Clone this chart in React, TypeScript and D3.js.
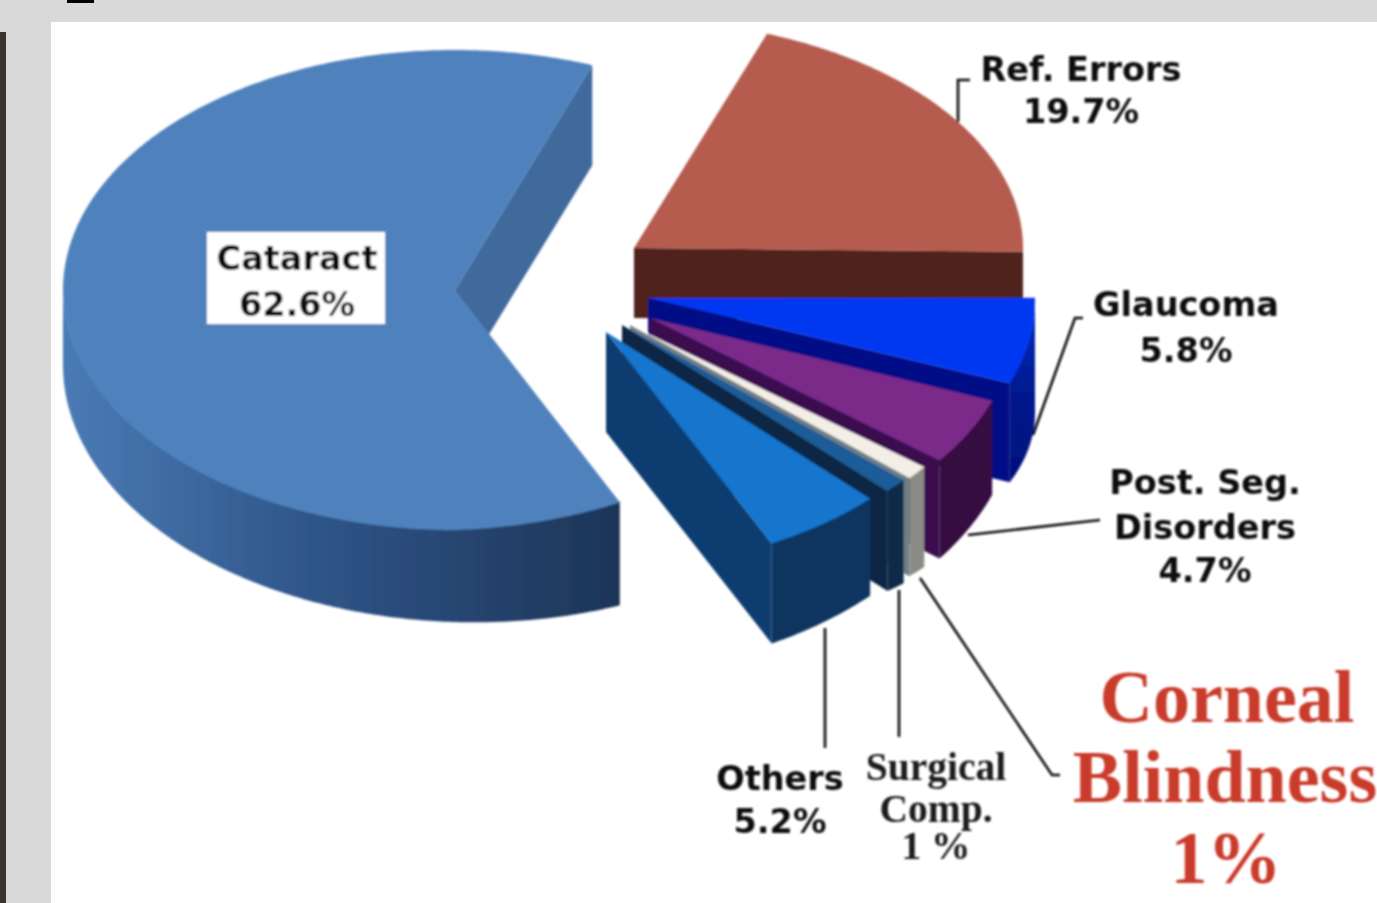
import React from "react";
import * as d3 from "d3";

// shares of blindness, clockwise from the top of the pie
const categories = ["Ref. Errors", "Glaucoma", "Post. Seg. Disorders", "Corneal Blindness", "Surgical Comp.", "Others", "Cataract"];
const shares = [19.7, 5.8, 4.7, 1, 1, 5.2, 62.6];

const topColors = ["#b55b4f", "#0038f2", "#7b2c8a", "#f3efe6", "#1f5c99", "#1874cd", "#5082bd"];
const endWallColors = ["#4f211a", "#000f86", "#3a0c50", "#6f7f86", "#0a2744", "#0b3d70", "#41699c"];
const rimColors = ["#4f211a", "url(#glaucomaRim)", "#34103f", "#8b8b86", "#0e2b47", "#0a3560", "url(#cataractRim)"];

// where each exploded slice sits on the page
const apexX = [634, 648, 650, 630, 622, 606, 455];
const apexY = [248, 298, 318, 325, 325, 332, 290];
const radiusX = [389, 387, 366, 372, 375, 373, 392];
const radiusY = [228, 240, 233, 232, 235, 236, 240];
const angleShift = [1, 0, 0, 0, 0, 0, 1.5];
const frontSquash = [0, 0, 0, 0, 0, 0, 13];
const rimDepthStart = [70, 115, 94, 100, 103, 97, 103];
const rimDepthEnd = [70, 99, 98, 98, 100, 100, 75];
const endWallDepth = [70, 99, 98, 98, 100, 100, 100];

const pieStart = (19 * Math.PI) / 180;

const leaders = [
  [[958, 122], [958, 80], [970, 80]],
  [[1033, 435], [1075, 318], [1083, 318]],
  [[968, 535], [1100, 520]],
  [[825, 628], [825, 748]],
  [[899, 590], [899, 737]],
  [[920, 578], [1052, 775], [1060, 775]],
];

const blackLabels = [
  { lines: ["Ref. Errors", "19.7%"], x: 1081, ys: [81, 123] },
  { lines: ["Glaucoma", "5.8%"], x: 1186, ys: [316, 362] },
  { lines: ["Post. Seg.", "Disorders", "4.7%"], x: 1205, ys: [494, 539, 582] },
  { lines: ["Others", "5.2%"], x: 780, ys: [790, 833] },
  { lines: ["Cataract", "62.6%"], x: 297, ys: [270, 316] },
];
const surgicalLines = ["Surgical", "Comp.", "1 %"];
const surgicalYs = [780, 822, 859];
const cornealLines = ["Corneal", "Blindness", "1%"];
const cornealXs = [1227, 1225, 1226];
const cornealYs = [722, 802, 883];

const App = () => {
  const pie = d3.pie<number>().sort(null).startAngle(pieStart).endAngle(pieStart + 2 * Math.PI);
  const slices = pie(shares);

  const renderSlice = (s: any, i: number) => {
    const shift = (angleShift[i] * Math.PI) / 180;
    const start = s.startAngle + shift;
    const end = s.endAngle + shift;

    const px = (a: number) => apexX[i] + radiusX[i] * Math.sin(a);
    const py = (a: number) => {
      const squash = a > Math.PI / 2 && a < Math.PI ? frontSquash[i] * Math.sin(a) : 0;
      return apexY[i] - radiusY[i] * Math.cos(a) - squash;
    };

    // only the part of the rim facing the viewer is drawn
    const from = Math.max(start, Math.PI / 2);
    const to = Math.min(end, (3 * Math.PI) / 2);
    const depth = d3.scaleLinear().domain([from, to]).range([rimDepthStart[i], rimDepthEnd[i]]);
    if (to > Math.PI) depth.domain([from, Math.PI, to]).range([rimDepthStart[i], 92, rimDepthEnd[i]]);
    const rim =
      to > from
        ? d3
            .area<number>()
            .x((a) => px(a))
            .y0((a) => py(a) - 1)
            .y1((a) => py(a) + depth(a))(d3.range(from, to, 0.01).concat(to))
        : null;

    const d = endWallDepth[i];
    const wall = d3.line()([
      [apexX[i], apexY[i]],
      [px(end), py(end)],
      [px(end), py(end) + d],
      [apexX[i], apexY[i] + d],
    ]);

    const outline = d3.range(start, end, 0.01).concat(end).map((a) => [px(a), py(a)] as [number, number]);
    const top = d3.line()([[apexX[i], apexY[i]], ...outline]) + "Z";

    return (
      <g key={categories[i]}>
        <path d={wall!} fill={endWallColors[i]} />
        {rim && <path d={rim} fill={rimColors[i]} />}
        <path d={top} fill={topColors[i]} />
      </g>
    );
  };

  const lineGen = d3.line();

  return (
    <svg width={1377} height={903} style={{ position: "fixed", left: 0, top: 0 }}>
      <defs>
        <linearGradient id="cataractRim" x1="63" x2="617" y1="0" y2="0" gradientUnits="userSpaceOnUse">
          <stop offset="0" stopColor="#4a7bb4" />
          <stop offset="0.45" stopColor="#2f5589" />
          <stop offset="1" stopColor="#1d3557" />
        </linearGradient>
        <linearGradient id="glaucomaRim" x1="0" x2="0" y1="300" y2="480" gradientUnits="userSpaceOnUse">
          <stop offset="0" stopColor="#0030c8" />
          <stop offset="0.5" stopColor="#001a90" />
          <stop offset="1" stopColor="#000f7a" />
        </linearGradient>
        <filter id="soft" x="-5%" y="-5%" width="110%" height="110%">
          <feGaussianBlur stdDeviation="1" />
        </filter>
      </defs>

      <rect width={1377} height={903} fill="#d9d9d9" />
      <rect x={51} y={22} width={1326} height={881} fill="#ffffff" />
      <rect x={0} y={32} width={6} height={871} fill="#3d322c" />
      <rect x={67} y={0} width={27} height={3} fill="#000000" />

      <g filter="url(#soft)">
        {slices.map(renderSlice)}

        <rect x={207} y={232} width={178} height={92} fill="#ffffff" />

        {leaders.map((pts, i) => (
          <path key={i} d={lineGen(pts as [number, number][])!} fill="none" stroke="#111111" strokeWidth={2.6} />
        ))}

        <g fontFamily="'DejaVu Sans'" fontWeight="bold" fontSize={33.5} fill="#111111" textAnchor="middle">
          {blackLabels.map((l) =>
            l.lines.map((t, j) => (
              <text key={t} x={l.x} y={l.ys[j]}>
                {t}
              </text>
            ))
          )}
        </g>

        <g fontFamily="'Liberation Serif'" fontWeight="bold" fontSize={39.5} fill="#1a1a1a" textAnchor="middle">
          {surgicalLines.map((t, j) => (
            <text key={t} x={936} y={surgicalYs[j]}>
              {t}
            </text>
          ))}
        </g>

        <g fontFamily="'Liberation Serif'" fontWeight="bold" fontSize={74} fill="#c93a2b" textAnchor="middle">
          {cornealLines.map((t, j) => (
            <text key={t} x={cornealXs[j]} y={cornealYs[j]}>
              {t}
            </text>
          ))}
        </g>
      </g>
    </svg>
  );
};

export default App;
